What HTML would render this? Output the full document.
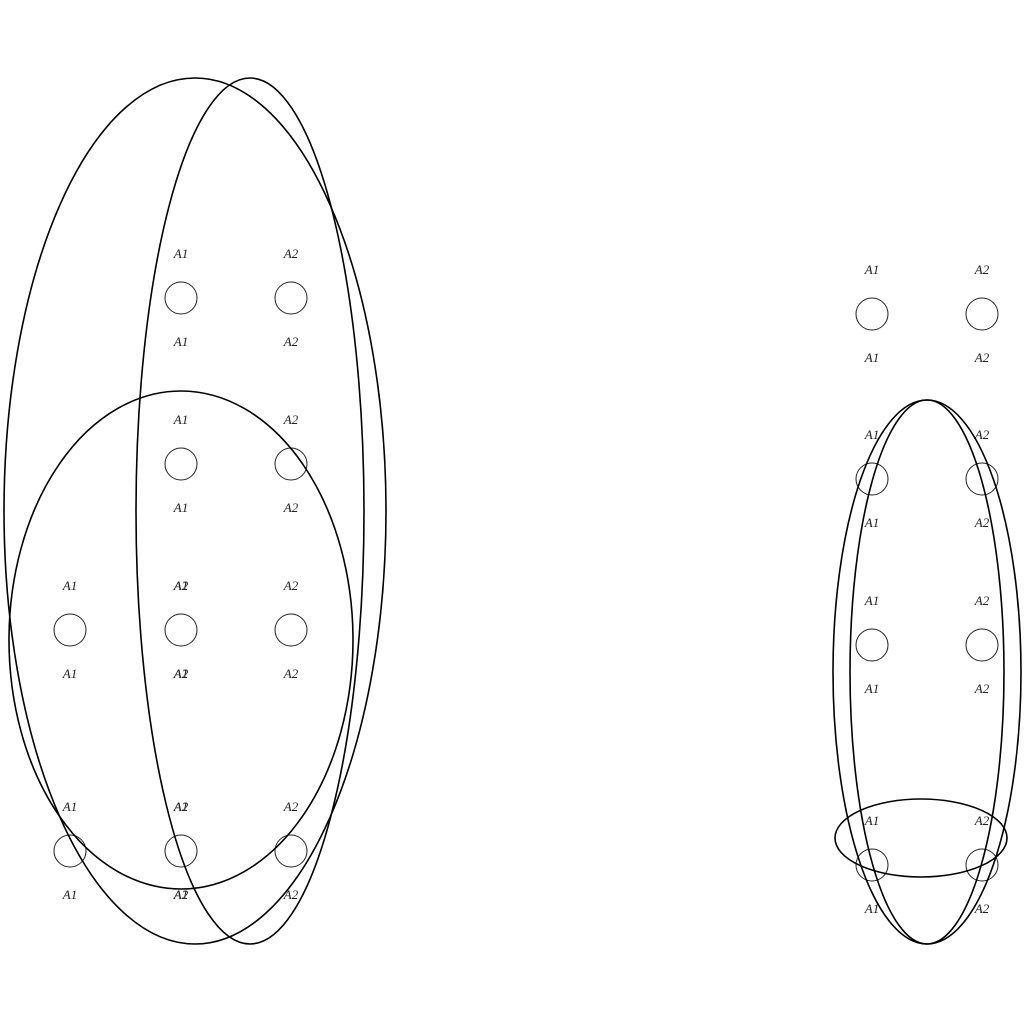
<!DOCTYPE html>
<html><head><meta charset="utf-8"><style>
html,body{margin:0;padding:0;background:#fff;}
svg{display:block;}
text{font-family:"Liberation Serif",serif;font-style:italic;font-size:13px;fill:#222;}
</style></head><body>
<svg id="chart" width="1024" height="1024" viewBox="0 0 1024 1024" xmlns="http://www.w3.org/2000/svg"></svg>
<script>
// node data: [column x, row y, labels]
const leftCols = [70, 181, 291];
const leftRows = [298, 464, 630, 851];
const leftNodes = [[1,0,["A1"]],[2,0,["A2"]],[1,1,["A1"]],[2,1,["A2"]],[0,2,["A1"]],[1,2,["A1","A2"]],[2,2,["A2"]],[0,3,["A1"]],[1,3,["A1","A2"]],[2,3,["A2"]]];
const rightCols = [872, 982];
const rightRows = [314, 479, 645, 865];
const rightNodes = [[0,0,["A1"]],[1,0,["A2"]],[0,1,["A1"]],[1,1,["A2"]],[0,2,["A1"]],[1,2,["A2"]],[0,3,["A1"]],[1,3,["A2"]]];
// ellipses: [cx, cy, rx, ry]
const ellipses = [[195,511,191,433],[250,511,114,433],[181,640,172,249],[927,672,94,272],[927,672,77,272],[921,838,86,39]];
const nodeR = 16;
const labelOffset = 44;

const svg = document.getElementById('chart');
const NS = 'http://www.w3.org/2000/svg';
function drawNodes(cols, rows, nodes, side) {
  nodes.forEach((n, i) => {
    const x = cols[n[0]], y = rows[n[1]];
    const c = document.createElementNS(NS, 'circle');
    c.setAttribute('cx', x); c.setAttribute('cy', y); c.setAttribute('r', nodeR);
    c.setAttribute('fill', 'none'); c.setAttribute('stroke', '#222'); c.setAttribute('stroke-width', '1');
    
    
    svg.appendChild(c);
    n[2].forEach(lbl => {
      [-labelOffset, labelOffset].forEach(dy => {
        const t = document.createElementNS(NS, 'text');
        t.setAttribute('x', x); t.setAttribute('y', y + dy + 4);
        t.setAttribute('text-anchor', 'middle');
        t.textContent = lbl;
        
        
        svg.appendChild(t);
      });
    });
  });
}
drawNodes(leftCols, leftRows, leftNodes, 'left');
drawNodes(rightCols, rightRows, rightNodes, 'right');
ellipses.forEach(e => {
  const el = document.createElementNS(NS, 'ellipse');
  el.setAttribute('cx', e[0]); el.setAttribute('cy', e[1]);
  el.setAttribute('rx', e[2]); el.setAttribute('ry', e[3]);
  el.setAttribute('fill', 'none'); el.setAttribute('stroke', '#000'); el.setAttribute('stroke-width', '1.6');
  
  
  svg.appendChild(el);
});
</script>
</body></html>
